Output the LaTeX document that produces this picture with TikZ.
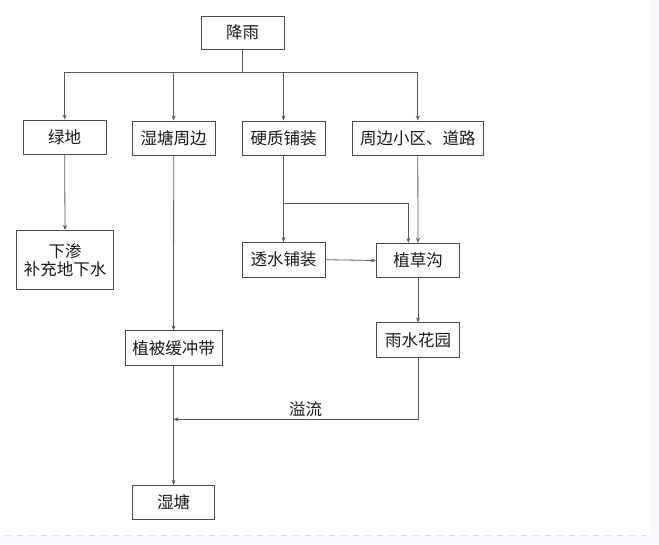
\documentclass[tikz,border=0pt]{standalone}
\usepackage{fontspec}
\setmainfont{Noto Sans CJK SC}
\usetikzlibrary{arrows.meta}
\definecolor{linec}{HTML}{5A5A5A}
\definecolor{boxc}{HTML}{4A4A4A}
\definecolor{bgc}{HTML}{F8F9FD}
\definecolor{dashc}{HTML}{DDE2EA}
\tikzset{
  box/.style={draw=boxc, line width=0.9pt, fill=white, rectangle, inner sep=0pt,
    font=\fontsize{16.5}{20}\selectfont, text=black!90, align=center},
  arr/.style={draw=linec, line width=0.8pt, -{Stealth[length=5pt,width=4pt]}},
  ln/.style={draw=linec, line width=0.8pt},
}
\begin{document}
\begin{tikzpicture}[x=1pt,y=-1pt]
\useasboundingbox (0,0) rectangle (659,544);
\fill[bgc] (0,0) rectangle (659,544);
\fill[white] (0,0) rectangle (651,535);
\draw[dashc, line width=0.8pt, dash pattern=on 6pt off 6pt] (5,535.5) -- (646,535.5);

\node[box, minimum width=83pt, minimum height=33pt] (rain) at (242.5,32.5) {降雨};
\node[box, minimum width=83pt, minimum height=34pt] (lvdi) at (64.7,137) {绿地};
\node[box, minimum width=83pt, minimum height=34pt] (shtzb) at (173.7,138) {湿塘周边};
\node[box, minimum width=83pt, minimum height=34pt] (yzpz) at (283.5,138) {硬质铺装};
\node[box, minimum width=131pt, minimum height=34pt] (road) at (417.8,138) {周边小区、道路};
\node[box, minimum width=97pt, minimum height=59pt] (xs) at (65,260) {下渗\\[-2pt]补充地下水};
\node[box, minimum width=83pt, minimum height=34.5pt] (tspz) at (283.5,259.7) {透水铺装};
\node[box, minimum width=83.4pt, minimum height=34.4pt] (zcg) at (418,260.5) {植草沟};
\node[box, minimum width=83.4pt, minimum height=34.3pt] (yshy) at (418,340) {雨水花园};
\node[box, minimum width=97pt, minimum height=34.3pt] (zbhcd) at (173.5,348) {植被缓冲带};
\node[box, minimum width=82.4pt, minimum height=34pt] (st) at (173.5,502.3) {湿塘};

\coordinate (bus) at (242.5,72);
\coordinate (br) at (283.5,203.3);
\coordinate (brend) at (408.3,203.3);
\coordinate (ovr) at (418,419.3);
\coordinate (ovl) at (173.5,419.3);

\draw[ln] (rain.south) -- (bus);
\draw[ln] (bus -| lvdi.north) -- (bus -| road.north);
\draw[arr] (bus -| lvdi.north) -- (lvdi.north);
\draw[arr] (bus -| shtzb.north) -- (shtzb.north);
\draw[arr] (bus -| yzpz.north) -- (yzpz.north);
\draw[arr] (bus -| road.north) -- (road.north);

\draw[arr] (lvdi.south) -- (xs.north);
\draw[arr] (shtzb.south) -- (zbhcd.north);
\draw[arr] (yzpz.south) -- (tspz.north);
\draw[arr] (br) -- (brend) -- (brend |- zcg.north);
\draw[arr] (road.south) -- (zcg.north);
\draw[arr] (tspz.east) -- (zcg.west);
\draw[arr] (zcg.south) -- (yshy.north);
\draw[arr] (yshy.south) -- (ovr) -- node[pos=0.46, above=-1pt, font=\fontsize{16.5}{20}\selectfont, text=black!90] {溢流} (ovl);
\draw[arr] (zbhcd.south) -- (st.north);
\end{tikzpicture}
\end{document}
